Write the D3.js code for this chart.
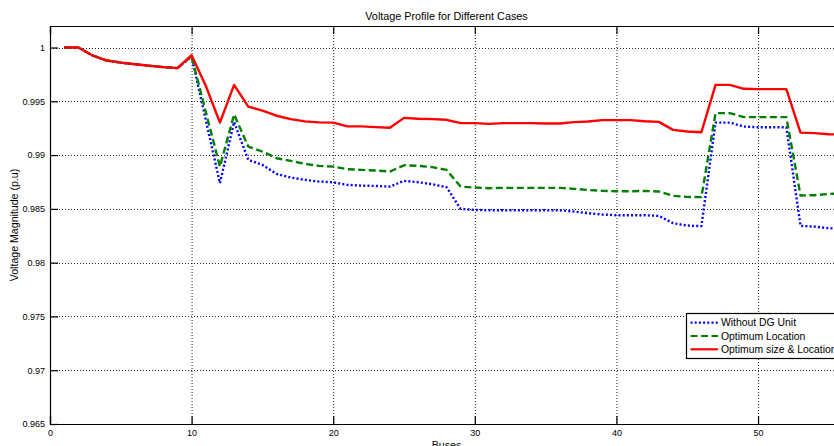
<!DOCTYPE html>
<html>
<head>
<meta charset="utf-8">
<script src="https://cdn.jsdelivr.net/npm/d3@7"></script>
<style>
  body { margin: 0; background: #fff; overflow: hidden; }
  text { font-family: "Liberation Sans", Arial, sans-serif; fill: #000; }
</style>
</head>
<body>
<div id="chart"></div>
<script>
// bus numbers on the x axis
var buses = [1, 2, 3, 4, 5, 6, 7, 8, 9, 10, 11, 12, 13, 14, 15, 16, 17, 18, 19, 20,
    21, 22, 23, 24, 25, 26, 27, 28, 29, 30, 31, 32, 33, 34, 35, 36, 37, 38, 39, 40,
    41, 42, 43, 44, 45, 46, 47, 48, 49, 50, 51, 52, 53, 54, 55, 56];

// voltage magnitude (p.u) per bus
var withoutDG = [1.0, 1.0, 0.99926, 0.99879, 0.9986, 0.99845, 0.9983, 0.99818, 0.99808, 0.99915,
    0.99327, 0.98739, 0.99307, 0.98955, 0.98909, 0.98825, 0.98791, 0.9877, 0.98754, 0.98747,
    0.98723, 0.98716, 0.98713, 0.98707, 0.9876, 0.98748, 0.98729, 0.98701, 0.985, 0.9849,
    0.98487, 0.98487, 0.98487, 0.98487, 0.98487, 0.98487, 0.98475, 0.9846, 0.98447, 0.98441,
    0.98441, 0.98441, 0.98435, 0.98367, 0.98345, 0.98339, 0.99302, 0.99302, 0.99265, 0.99259,
    0.99259, 0.99259, 0.98342, 0.98335, 0.9832, 0.98314];

var optLocation = [1.0, 1.0, 0.99926, 0.99879, 0.9986, 0.99845, 0.9983, 0.99818, 0.99808, 0.99918,
    0.99402, 0.98893, 0.99378, 0.99079, 0.99033, 0.98971, 0.98946, 0.98918, 0.989, 0.98893,
    0.98869, 0.98862, 0.98856, 0.98847, 0.98905, 0.989, 0.98888, 0.98862, 0.98707, 0.98698,
    0.98692, 0.98695, 0.98695, 0.98695, 0.98695, 0.98695, 0.98686, 0.98676, 0.98667, 0.98664,
    0.98664, 0.98667, 0.98661, 0.98621, 0.98611, 0.98609, 0.9939, 0.9939, 0.99353, 0.99353,
    0.99353, 0.99353, 0.98624, 0.98627, 0.98639, 0.98642];

var optSizeLocation = [1.0, 1.0, 0.99926, 0.99879, 0.9986, 0.99845, 0.9983, 0.99818, 0.99808, 0.99928,
    0.99645, 0.99302, 0.99652, 0.99451, 0.99414, 0.99366, 0.99334, 0.99313, 0.99304, 0.99302,
    0.99267, 0.99267, 0.9926, 0.99254, 0.99346, 0.99338, 0.99334, 0.99328, 0.99297, 0.99297,
    0.9929, 0.99297, 0.99297, 0.99297, 0.99294, 0.99294, 0.99306, 0.99312, 0.99325, 0.99325,
    0.99325, 0.99315, 0.99309, 0.99234, 0.99219, 0.99212, 0.99653, 0.99653, 0.99616, 0.99613,
    0.99613, 0.99613, 0.99209, 0.99204, 0.99194, 0.99189];

var seriesNames = ["Without DG Unit", "Optimum Location", "Optimum size & Location"];
var xTicks = [0, 10, 20, 30, 40, 50];
var yTicks = [0.965, 0.97, 0.975, 0.98, 0.985, 0.99, 0.995, 1];

// svg container
var svgWidth = 834;
var svgHeight = 446;

// axes box, right side runs past the window edge
var margin = { top: 26, left: 50 };
var width = 793;
var height = 398;

var svg = d3.select("#chart")
    .append("svg")
    .attr("width", svgWidth)
    .attr("height", svgHeight);

var chartGroup = svg.append("g")
    .attr("transform", `translate(${margin.left}, ${margin.top})`);

// scales
var xScale = d3.scaleLinear().domain([0, 56]).range([0, width]);
var yScale = d3.scaleLinear().domain([0.965, 1.002]).range([height, 0]);

// dotted grid
chartGroup.append("g")
    .selectAll("line")
    .data(xTicks.slice(1))
    .enter()
    .append("line")
    .attr("x1", d => xScale(d) + 0.5)
    .attr("x2", d => xScale(d) + 0.5)
    .attr("y1", 0)
    .attr("y2", height)
    .attr("stroke", "#222")
    .attr("stroke-dasharray", "1,2");

chartGroup.append("g")
    .selectAll("line")
    .data(yTicks.slice(1))
    .enter()
    .append("line")
    .attr("x1", 0)
    .attr("x2", width)
    .attr("y1", d => Math.round(yScale(d)) + 0.5)
    .attr("y2", d => Math.round(yScale(d)) + 0.5)
    .attr("stroke", "#222")
    .attr("stroke-dasharray", "1,2");

// axes, ticks point inward like matlab
var bottomAxis = d3.axisBottom(xScale).tickValues(xTicks).tickSize(-8).tickPadding(6);
var topAxis = d3.axisTop(xScale).tickValues(xTicks).tickSize(-8).tickFormat("");
var leftAxis = d3.axisLeft(yScale).tickValues(yTicks).tickSize(-8).tickPadding(5)
    .tickFormat(d => String(+d.toFixed(3)));

var xAxis = chartGroup.append("g")
    .attr("transform", `translate(0, ${height})`)
    .call(bottomAxis);

var xAxisTop = chartGroup.append("g")
    .call(topAxis);

var yAxis = chartGroup.append("g")
    .call(leftAxis);

[xAxis, xAxisTop, yAxis].forEach(function(ax) {
    ax.select(".domain").attr("stroke", "#000").attr("stroke-width", 1.2);
    ax.selectAll(".tick line").attr("stroke", "#000").attr("stroke-width", 1.2);
    ax.selectAll("text").style("font-size", "9px").attr("fill", "#000");
});

// lines
var clip = svg.append("clipPath").attr("id", "plotclip")
    .append("rect").attr("width", width).attr("height", height);

var line = d3.line()
    .x((d, i) => xScale(buses[i]))
    .y(d => yScale(d));

var lineStyles = [
    { data: withoutDG, color: "#0000ff", dash: "2,2.2", width: 2.4 },
    { data: optLocation, color: "#008000", dash: "7,3.5", width: 2.4 },
    { data: optSizeLocation, color: "#ff0000", dash: null, width: 2.4 }
];

var linesGroup = chartGroup.append("g").attr("clip-path", "url(#plotclip)");

lineStyles.forEach(function(s) {
    linesGroup.append("path")
        .datum(s.data)
        .attr("d", line)
        .attr("fill", "none")
        .attr("stroke", s.color)
        .attr("stroke-width", s.width)
        .attr("stroke-dasharray", s.dash)
        .attr("stroke-linejoin", "round");
});

// title and axis labels
svg.append("text")
    .attr("x", margin.left + width / 2)
    .attr("y", 20)
    .attr("text-anchor", "middle")
    .style("font-size", "10.8px")
    .text("Voltage Profile for Different Cases");

svg.append("text")
    .attr("transform", `translate(18, ${margin.top + height / 2}) rotate(-90)`)
    .attr("text-anchor", "middle")
    .style("font-size", "10.6px")
    .text("Voltage Magnitude (p.u)");

svg.append("text")
    .attr("x", margin.left + width / 2)
    .attr("y", 449)
    .attr("text-anchor", "middle")
    .style("font-size", "10.6px")
    .text("Buses");

// legend
var legend = svg.append("g")
    .attr("transform", "translate(686, 313)");

legend.append("rect")
    .attr("x", 0.5)
    .attr("y", 0.5)
    .attr("width", 170)
    .attr("height", 45)
    .attr("fill", "#fff")
    .attr("stroke", "#000")
    .attr("stroke-width", 1.2);

seriesNames.forEach(function(name, i) {
    var yy = 9.7 + i * 13.3;
    legend.append("line")
        .attr("x1", 4.5)
        .attr("x2", 32)
        .attr("y1", yy)
        .attr("y2", yy)
        .attr("stroke", lineStyles[i].color)
        .attr("stroke-width", 2.2)
        .attr("stroke-dasharray", lineStyles[i].dash);
    legend.append("text")
        .attr("x", 35)
        .attr("y", yy)
        .attr("dy", "0.35em")
        .style("font-size", "10.4px")
        .text(name);
});
</script>
</body>
</html>
